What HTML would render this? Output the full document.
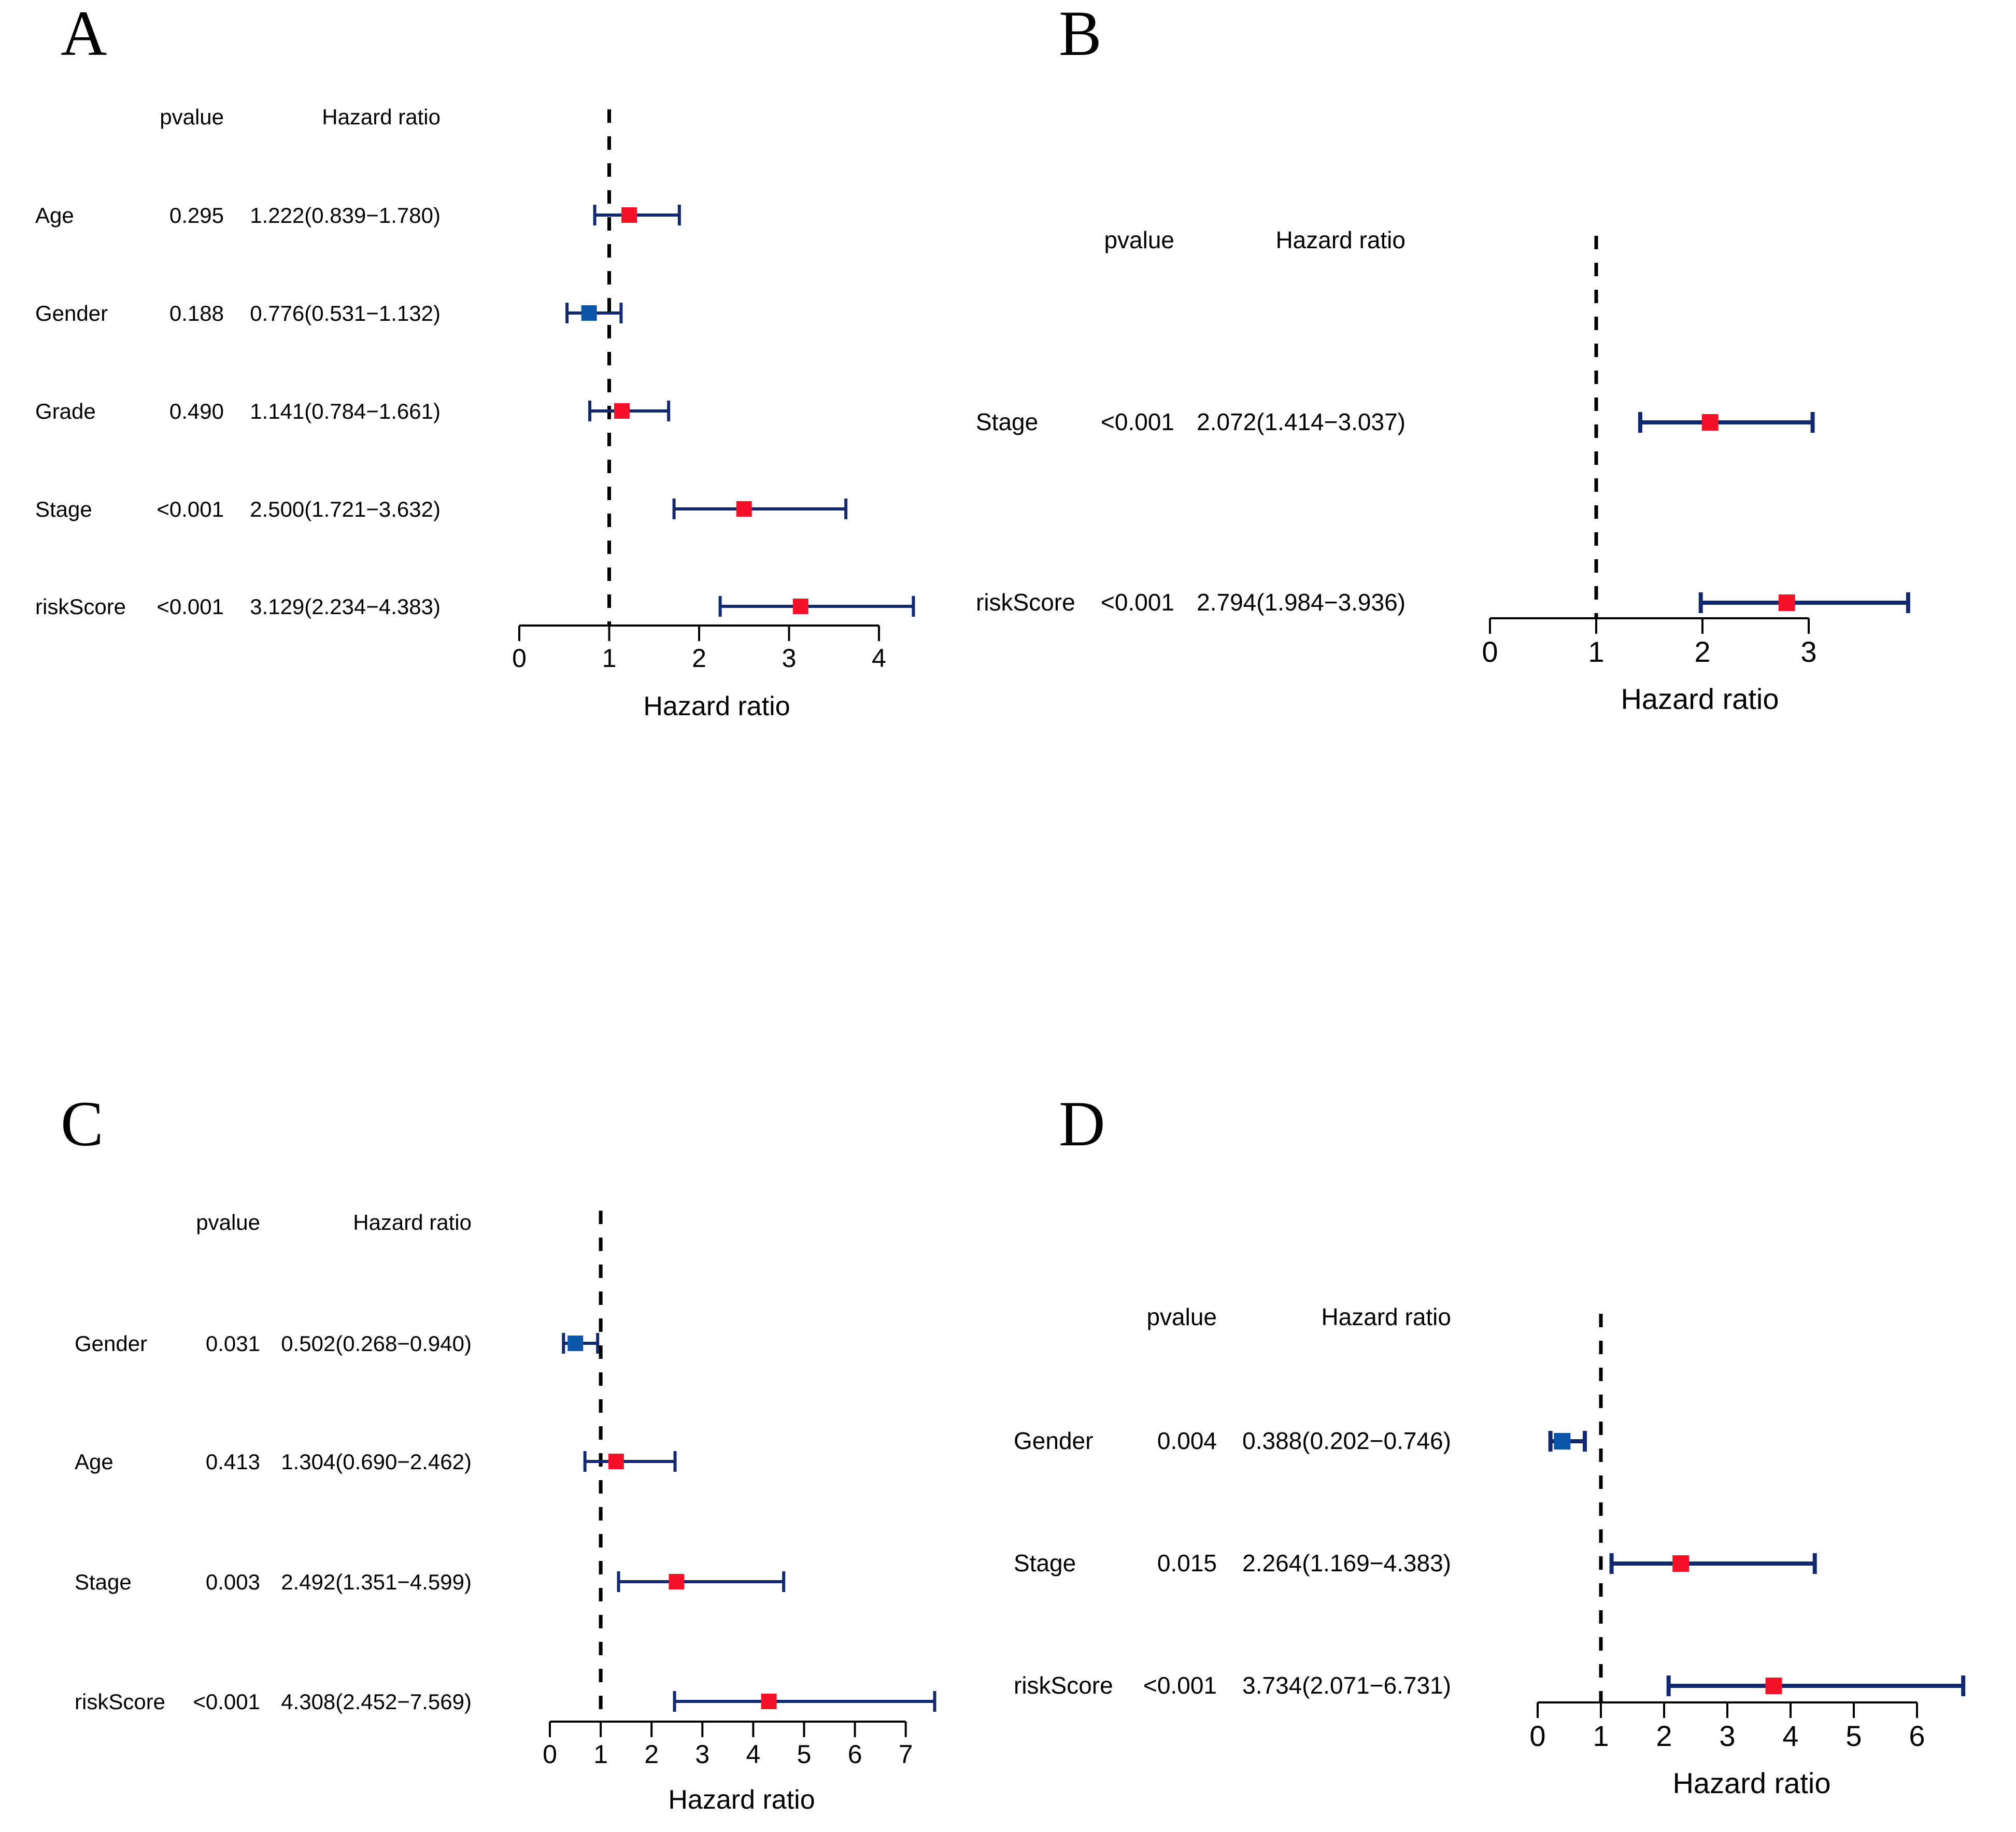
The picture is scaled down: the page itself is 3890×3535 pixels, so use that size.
<!DOCTYPE html>
<html><head><meta charset="utf-8"><style>
html,body{margin:0;padding:0;background:#fff;}
svg{display:block;}
text{font-family:"Liberation Sans",Arial,sans-serif;fill:#000;}
.letter{font-family:"Liberation Serif",serif;font-size:124px;}
</style></head><body>
<svg id="fig" width="3890" height="3535" viewBox="0 0 3890 3535" xmlns="http://www.w3.org/2000/svg"></svg>
<script>
// Panel A data
const aNames = ["Age","Gender","Grade","Stage","riskScore"];
const aP = ["0.295","0.188","0.490","<0.001","<0.001"];
const aHR = [1.222,0.776,1.141,2.500,3.129];
const aLo = [0.839,0.531,0.784,1.721,2.234];
const aHi = [1.780,1.132,1.661,3.632,4.383];
const aTicks = [0,1,2,3,4];
// Panel B data
const bNames = ["Stage","riskScore"];
const bP = ["<0.001","<0.001"];
const bHR = [2.072,2.794];
const bLo = [1.414,1.984];
const bHi = [3.037,3.936];
const bTicks = [0,1,2,3];
// Panel C data
const cNames = ["Gender","Age","Stage","riskScore"];
const cP = ["0.031","0.413","0.003","<0.001"];
const cHR = [0.502,1.304,2.492,4.308];
const cLo = [0.268,0.690,1.351,2.452];
const cHi = [0.940,2.462,4.599,7.569];
const cTicks = [0,1,2,3,4,5,6,7];
// Panel D data
const dNames = ["Gender","Stage","riskScore"];
const dP = ["0.004","0.015","<0.001"];
const dHR = [0.388,2.264,3.734];
const dLo = [0.202,1.169,2.071];
const dHi = [0.746,4.383,6.731];
const dTicks = [0,1,2,3,4,5,6];

const NS="http://www.w3.org/2000/svg";
const svg=document.getElementById('fig');
function mk(tag,attrs,parent,txt){
  const e=document.createElementNS(NS,tag);
  for(const k in attrs) e.setAttribute(k,attrs[k]);
  if(txt!==undefined) e.textContent=txt;
  (parent||svg).appendChild(e);
  return e;
}
function fmt(v){return v.toFixed(3);}

function panel(cfg,names,pv,hr,lo,hi,ticks){
  const g=mk('g',{});
  
  
  const sx=v=>cfg.x0+v*cfg.unit;
  const fs=cfg.fs, lw=cfg.lw, ms=cfg.ms;
  const lt=mk('text',{x:cfg.lx,y:cfg.ly,class:'letter'},g,cfg.id);
  
  
  const h1=mk('text',{x:cfg.pr,y:cfg.hy,'font-size':fs,'text-anchor':'end'},g,'pvalue');
  
  
  const h2=mk('text',{x:cfg.hr,y:cfg.hy,'font-size':fs,'text-anchor':'end'},g,'Hazard ratio');
  
  
  const dl=mk('line',{x1:sx(1),x2:sx(1),y1:cfg.dTop,y2:cfg.ay,stroke:'#000','stroke-width':7,'stroke-dasharray':'26 26'},g);
  
  
  const ax=mk('line',{x1:sx(ticks[0]),x2:sx(ticks[ticks.length-1]),y1:cfg.ay,y2:cfg.ay,stroke:'#000','stroke-width':4},g);
  
  
  ticks.forEach(t=>{
    const tk=mk('line',{x1:sx(t),x2:sx(t),y1:cfg.ay,y2:cfg.ay+30,stroke:'#000','stroke-width':4},g);
    
    
    const tl=mk('text',{x:sx(t),y:cfg.ay+cfg.tly,'font-size':cfg.tfs,'text-anchor':'middle'},g,String(t));
    
    
  });
  const at=mk('text',{x:cfg.tx,y:cfg.ay+cfg.ty,'font-size':cfg.afs,'text-anchor':'middle'},g,'Hazard ratio');
  
  
  names.forEach((n,i)=>{
    const y=cfg.rows[i];
    const t1=mk('text',{x:cfg.nx,y:y+15,'font-size':fs},g,n);
    
    
    const t2=mk('text',{x:cfg.pr,y:y+15,'font-size':fs,'text-anchor':'end'},g,pv[i]);
    
    
    const t3=mk('text',{x:cfg.hr,y:y+15,'font-size':fs,'text-anchor':'end'},g,fmt(hr[i])+'('+fmt(lo[i])+'\u2212'+fmt(hi[i])+')');
    
    
    const ci=mk('line',{x1:sx(lo[i]),x2:sx(hi[i]),y1:y,y2:y,stroke:'#13296f','stroke-width':lw},g);
    
    
    [lo[i],hi[i]].forEach(v=>{
      const c=mk('line',{x1:sx(v),x2:sx(v),y1:y-20,y2:y+20,stroke:'#13296f','stroke-width':lw},g);
      
      
    });
    const m=mk('rect',{x:sx(hr[i])-ms/2,y:y-ms/2,width:ms,height:ms,fill:hr[i]>=1?'#f51228':'#0b55a8'},g);
    
    
  });
}

panel({id:'A',lx:117,ly:106,x0:1002,unit:173.5,ay:1207,dTop:211,nx:68,pr:432,hr:850,hy:240,tx:1383,rows:[415,604,793,982,1170],fs:42,tfs:50,afs:52,tly:80,ty:173,lw:6,ms:30},aNames,aP,aHR,aLo,aHi,aTicks);
panel({id:'B',lx:2043,ly:106,x0:2875,unit:205,ay:1193,dTop:455,nx:1883,pr:2266,hr:2712,hy:479,tx:3280,rows:[815,1163],fs:46,tfs:56,afs:56,tly:84,ty:175,lw:8,ms:32},bNames,bP,bHR,bLo,bHi,bTicks);
panel({id:'C',lx:117,ly:2210,x0:1061,unit:98.1,ay:3322,dTop:2336,nx:144,pr:502,hr:910,hy:2373,tx:1431,rows:[2592,2820,3052,3283],fs:42,tfs:50,afs:52,tly:80,ty:168,lw:6,ms:30},cNames,cP,cHR,cLo,cHi,cTicks);
panel({id:'D',lx:2043,ly:2210,x0:2967,unit:122,ay:3285,dTop:2535,nx:1956,pr:2348,hr:2800,hy:2557,tx:3380,rows:[2781,3017,3253],fs:46,tfs:56,afs:56,tly:84,ty:175,lw:8,ms:32},dNames,dP,dHR,dLo,dHi,dTicks);
</script>
</body></html>
